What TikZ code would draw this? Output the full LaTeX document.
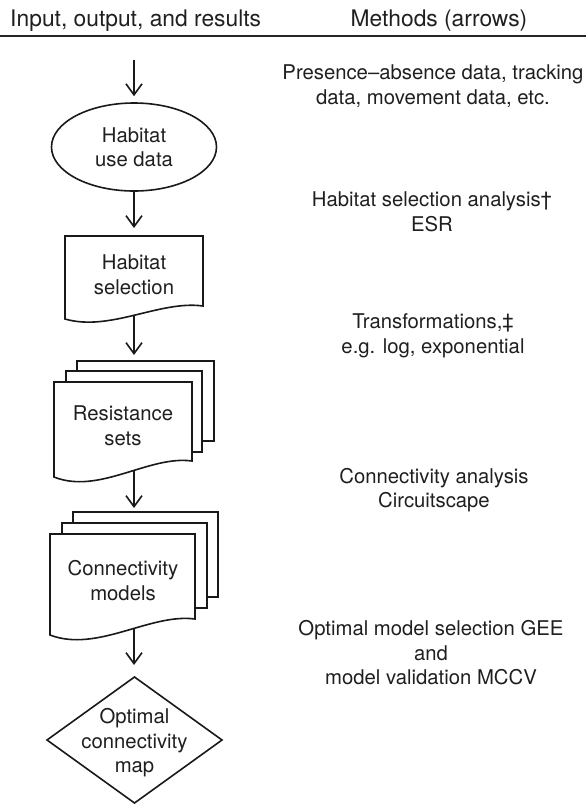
\documentclass[tikz,border=0pt]{standalone}
\usepackage{fontspec}
\setmainfont{TeX Gyre Heros}
\usetikzlibrary{arrows.meta,shapes.geometric}
\begin{document}
\begin{tikzpicture}[x=1pt,y=-1pt,
  txt/.style={align=center, font=\fontsize{20.3}{24.5}\selectfont, inner sep=0pt, text=black!88},
  headtxt/.style={font=\fontsize{22.8}{27}\selectfont, inner sep=0pt, text=black!88},
  flow/.style={-{Straight Barb[length=11pt,width=16pt]}, line width=1.6pt, draw=black!90},
  sheet/.style={draw=black!90, fill=white, line width=1.6pt, line join=miter}]
\useasboundingbox (0,0) rectangle (586,804);

% header
\node[headtxt, anchor=base west] (hl) at (10,26.5) {Input, output, and results};
\node[headtxt, anchor=base] (hr) at (439,26.5) {Methods (arrows)};
\coordinate (rl) at (0,36);
\coordinate (rr) at (586,36);
\draw[line width=1.8pt, black!85] (rl) -- (rr);

% 1: habitat use data
\node[ellipse, draw=black!90, line width=1.6pt, minimum width=165pt, minimum height=88pt, inner sep=0pt, txt] (use) at (134,147) {Habitat\\use data};

% 2: habitat selection
\draw[sheet] (65,236) -- (203,236) -- (203,306) .. controls (160,300) and (110,332) .. (65,319) -- cycle;
\node[txt] (sel) at (134,274.5) {Habitat\\selection};
\coordinate (seltop) at (134,236);
\coordinate (selbot) at (134,315);

% 3: resistance sets
\draw[sheet] (77,361) rectangle (214,441);
\draw[sheet] (66,371) rectangle (202,452);
\draw[sheet] (54,382) -- (192,382) -- (192,461) .. controls (149,455) and (99,495) .. (54,477) -- cycle;
\node[txt] (res) at (123,425.5) {Resistance\\sets};
\coordinate (restop) at (134,361);
\coordinate (resbot) at (134,470);

% 4: connectivity models
\draw[sheet] (73,512) rectangle (218,597);
\draw[sheet] (62,523) rectangle (207,608);
\draw[sheet] (50,534) -- (195,534) -- (195,619) .. controls (150,613) and (97,653) .. (50,635) -- cycle;
\node[txt] (con) at (123,580.5) {Connectivity\\models};
\coordinate (contop) at (134,512);
\coordinate (conbot) at (134,628);

% 5: optimal connectivity map
\draw[sheet] (134.5,677) -- (222,740) -- (134.5,803) -- (47,740) -- cycle;
\node[txt] (map) at (134.5,743) {Optimal\\connectivity\\map};
\coordinate (maptop) at (134,677);

% connectors
\coordinate (start) at (134,60);
\draw[flow, shorten >=6pt] (start) -- (use.north);
\draw[flow, shorten >=8pt] (use.south) -- (seltop);
\draw[flow, shorten >=6pt] (selbot) -- (restop);
\draw[flow, shorten >=4pt] (resbot) -- (contop);
\draw[flow, shorten >=12pt] (conbot) -- (maptop);

% methods column
\node[txt] (m1) at (433,86) {Presence–absence data, tracking\\data, movement data, etc.};
\node[txt] (m2) at (432,212) {Habitat selection analysis†\\ESR};
\node[txt] (m3) at (433,336) {Transformations,‡\\e.g. log, exponential};
\node[txt] (m4) at (434,490) {Connectivity analysis\\Circuitscape};
\node[txt] (m5) at (431,653) {Optimal model selection GEE\\and\\model validation MCCV};
\end{tikzpicture}
\end{document}
